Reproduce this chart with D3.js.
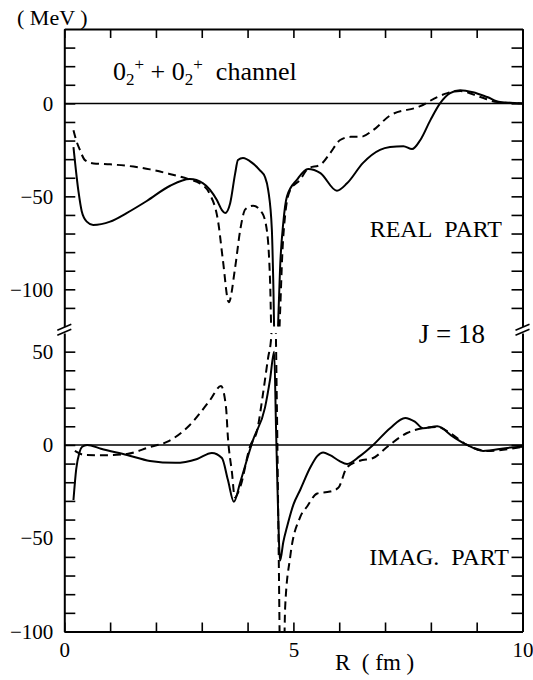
<!DOCTYPE html>
<html>
<head>
<meta charset="utf-8">
<script src="https://cdn.jsdelivr.net/npm/d3@7/dist/d3.min.js"></script>
<style>
  body { margin: 0; background: #fff; }
  svg { display: block; }
  svg text { font-family: 'Liberation Serif', 'Times New Roman', Times, 'DejaVu Serif', serif; }
</style>
</head>
<body>
<div id="chart"></div>
<script>
// Ticks
const xTicks = [0, 1, 2, 3, 4, 5, 6, 7, 8, 9, 10]
const xLabels = [0, 5, 10]
const topTicks = [-110, -100, -90, -80, -70, -60, -50, -40, -30, -20, -10, 0, 10, 20, 30]
const topLabels = [-100, -50, 0]
const botTicks = [-90, -80, -70, -60, -50, -40, -30, -20, -10, 0, 10, 20, 30, 40, 50]
const botLabels = [-100, -50, 0, 50]

// Real part (upper panel), [R, MeV]
const realSolid = [
  [0.2, -23.5], [0.31, -47.5], [0.38, -58], [0.49, -63.6], [0.63, -65.4], [1.0, -63.6], [1.36, -59],
  [1.8, -52.5], [2.31, -44.3], [2.74, -40.7], [3.03, -43], [3.33, -52], [3.44, -57.4], [3.51, -59],
  [3.62, -53.7], [3.73, -37.5], [3.79, -30.5], [3.9, -29.4], [4.1, -32], [4.27, -36], [4.38, -39.6],
  [4.45, -46.6], [4.53, -68], [4.56, -95], [4.6, -140], [4.64, -140], [4.67, -116], [4.71, -88],
  [4.78, -64], [4.86, -50], [5.08, -41], [5.32, -35.3], [5.59, -37.5], [5.95, -47], [6.17, -43],
  [6.52, -32], [6.89, -25], [7.11, -23.5], [7.4, -23], [7.59, -24.6], [7.77, -19.7], [7.99, -9],
  [8.2, 0], [8.42, 5.5], [8.64, 7.1], [8.92, 6], [9.23, 3.4], [9.51, 0.7], [10, 0]
]
const realDashed = [
  [0.2, -14.4], [0.27, -20.6], [0.34, -25], [0.45, -30.5], [0.64, -32.3], [1.0, -32.8], [1.51, -34],
  [1.87, -35.5], [2.24, -37.6], [2.7, -40.7], [2.96, -43], [3.18, -49], [3.36, -64], [3.46, -84],
  [3.59, -107], [3.73, -88], [3.84, -68], [3.95, -57], [4.12, -55], [4.32, -59], [4.43, -70],
  [4.49, -95], [4.54, -140], [4.66, -140], [4.71, -112], [4.76, -80], [4.82, -60], [4.93, -46.6],
  [5.15, -41], [5.32, -35], [5.59, -33], [5.8, -26.8], [6.02, -19.7], [6.25, -18], [6.47, -18],
  [6.74, -14.4], [7.11, -6.5], [7.77, -1.5], [8.14, 3.4], [8.36, 5.5], [8.64, 6.6], [9.08, 3.4],
  [9.45, 0.7], [10, 0]
]

// Imaginary part (lower panel), [R, MeV]
const imagSolid = [
  [0.2, -29.5], [0.26, -13], [0.33, -4], [0.39, -1], [0.5, 0], [0.8, -2], [1.37, -5.4], [1.87, -8.6],
  [2.42, -9.6], [2.9, -7.5], [3.22, -4.3], [3.44, -7], [3.57, -18.7], [3.7, -30.5], [3.84, -20],
  [4.05, -2.7], [4.12, 2.7], [4.38, 20], [4.49, 35], [4.58, 50], [4.62, 10], [4.66, -30], [4.71, -62],
  [4.78, -52], [4.86, -44], [5.0, -32], [5.15, -24], [5.37, -12], [5.52, -6], [5.65, -4], [5.8, -5.5],
  [6.0, -8.5], [6.17, -10.2], [6.45, -6], [6.74, 0], [7.11, 9], [7.44, 14.5], [7.65, 12.5], [7.83, 9],
  [8.14, 10], [8.49, 4.3], [8.79, 0], [9.14, -3.2], [9.67, -1.6], [10, -1]
]
const imagDashed = [
  [0.23, -3.2], [0.45, -5.4], [0.9, -5.5], [1.37, -4.8], [1.87, -1.1], [2.24, 1.6], [2.74, 10.7],
  [3.18, 24], [3.42, 31.6], [3.53, 20], [3.57, 4.3], [3.66, -15], [3.72, -28], [3.84, -22.5],
  [4.05, -1], [4.21, 8], [4.34, 28], [4.45, 47], [4.51, 56], [4.56, 75], [4.6, 75], [4.64, 20],
  [4.68, -60], [4.72, -130], [4.78, -130], [4.82, -87], [4.93, -60], [5.15, -38.6], [5.3, -33],
  [5.52, -26], [5.8, -25], [5.98, -23], [6.17, -12], [6.45, -8.5], [6.74, -7], [7.05, -1],
  [7.48, 6.4], [7.83, 9], [8.14, 9.6], [8.42, 6.4], [8.79, 0], [9.23, -3.2], [10, -1]
]

const width = 533, height = 680

const svg = d3.select('#chart').append('svg')
  .attr('width', width).attr('height', height)

// Scales: one x, two y (broken axis)
const x = d3.scaleLinear().domain([0, 10]).range([64.3, 522.5])
const yTop = d3.scaleLinear().domain([-120, 40]).range([326.5, 29])
const yBot = d3.scaleLinear().domain([-100, 60]).range([631.5, 333])

// Clip rects for each panel
const defs = svg.append('defs')
defs.append('clipPath').attr('id', 'clip-top').append('rect')
  .attr('x', x(0)).attr('y', yTop(40)).attr('width', x(10) - x(0)).attr('height', yTop(-120) - yTop(40))
defs.append('clipPath').attr('id', 'clip-bot').append('rect')
  .attr('x', x(0)).attr('y', yBot(60)).attr('width', x(10) - x(0)).attr('height', yBot(-100) - yBot(60))

const styleAxis = g => {
  g.attr('font-family', null)
  g.select('.domain').attr('stroke', '#000').attr('stroke-width', 2)
  g.selectAll('.tick line').attr('stroke', '#000').attr('stroke-width', 1.6)
  g.selectAll('.tick text').attr('font-size', 21).attr('fill', '#000')
}
const fmt = labels => d => labels.includes(d) ? d3.format('d')(d) : ''

// X axes
svg.append('g').attr('transform', `translate(0,${yBot(-100)})`)
  .call(d3.axisBottom(x).tickValues(xTicks).tickSize(-9).tickSizeOuter(0).tickPadding(11).tickFormat(fmt(xLabels)))
  .call(styleAxis)
svg.append('g').attr('transform', `translate(0,${yTop(40)})`)
  .call(d3.axisTop(x).tickValues(xTicks).tickSize(-9).tickSizeOuter(0).tickFormat(''))
  .call(styleAxis)

// Y axes, upper and lower panels, left and right
svg.append('g').attr('transform', `translate(${x(0)},0)`)
  .call(d3.axisLeft(yTop).tickValues(topTicks).tickSize(-11).tickSizeOuter(0).tickPadding(11).tickFormat(fmt(topLabels)))
  .call(styleAxis)
svg.append('g').attr('transform', `translate(${x(0)},0)`)
  .call(d3.axisLeft(yBot).tickValues(botTicks.concat([-100])).tickSize(-11).tickSizeOuter(0).tickPadding(11).tickFormat(fmt(botLabels)))
  .call(styleAxis)
svg.append('g').attr('transform', `translate(${x(10)},0)`)
  .call(d3.axisRight(yTop).tickValues(topTicks).tickSize(-11).tickSizeOuter(0).tickFormat(''))
  .call(styleAxis)
svg.append('g').attr('transform', `translate(${x(10)},0)`)
  .call(d3.axisRight(yBot).tickValues(botTicks).tickSize(-11).tickSizeOuter(0).tickFormat(''))
  .call(styleAxis)

// Break marks on both vertical axes
const breakY = (yTop(-120) + yBot(60)) / 2
;[x(0), x(10)].forEach(bx => {
  [-2.5, 2.5].forEach(off => {
    svg.append('line')
      .attr('x1', bx - 7).attr('y1', breakY + off + 3)
      .attr('x2', bx + 7).attr('y2', breakY + off - 3)
      .attr('stroke', '#000').attr('stroke-width', 1.6)
  })
})

// Zero lines
svg.append('line').attr('x1', x(0)).attr('x2', x(10)).attr('y1', yTop(0)).attr('y2', yTop(0))
  .attr('stroke', '#000').attr('stroke-width', 1.5)
svg.append('line').attr('x1', x(0)).attr('x2', x(10)).attr('y1', yBot(0)).attr('y2', yBot(0))
  .attr('stroke', '#000').attr('stroke-width', 1.5)

// Curves
const drawCurve = (data, y, clip, dashed) => {
  const line = d3.line().x(d => x(d[0])).y(d => y(d[1])).curve(d3.curveMonotoneX)
  svg.append('path')
    .datum(data)
    .attr('clip-path', `url(#${clip})`)
    .attr('d', line)
    .attr('fill', 'none')
    .attr('stroke', '#000')
    .attr('stroke-width', 2)
    .attr('stroke-dasharray', dashed ? '8,5' : null)
}
drawCurve(realSolid, yTop, 'clip-top', false)
drawCurve(realDashed, yTop, 'clip-top', true)
drawCurve(imagSolid, yBot, 'clip-bot', false)
drawCurve(imagDashed, yBot, 'clip-bot', true)

// Texts
const label = (txt, xp, yp, size, anchor) => svg.append('text')
  .attr('x', xp).attr('y', yp).attr('font-size', size)
  .attr('text-anchor', anchor || 'start').attr('fill', '#000').text(txt)

label('( MeV )', 17, 25, 22)
label('REAL\u00a0\u00a0PART', 502, 237, 24, 'end')
label('J = 18', 485, 343, 27, 'end')
label('IMAG.\u00a0\u00a0PART', 509, 565, 24, 'end')
label('R\u00a0\u00a0( fm )', 335, 670, 23)

// Channel label with sub/superscripts
const ch = svg.append('text').attr('x', 113).attr('y', 80).attr('font-size', 26).attr('fill', '#000')
ch.append('tspan').text('0')
ch.append('tspan').attr('font-size', 17).attr('dy', 5).text('2')
ch.append('tspan').attr('font-size', 17).attr('dy', -15).text('+')
ch.append('tspan').attr('dy', 10).text(' + 0')
ch.append('tspan').attr('font-size', 17).attr('dy', 5).text('2')
ch.append('tspan').attr('font-size', 17).attr('dy', -15).text('+')
ch.append('tspan').attr('dy', 10).text('\u00a0\u00a0channel')
</script>
</body>
</html>
